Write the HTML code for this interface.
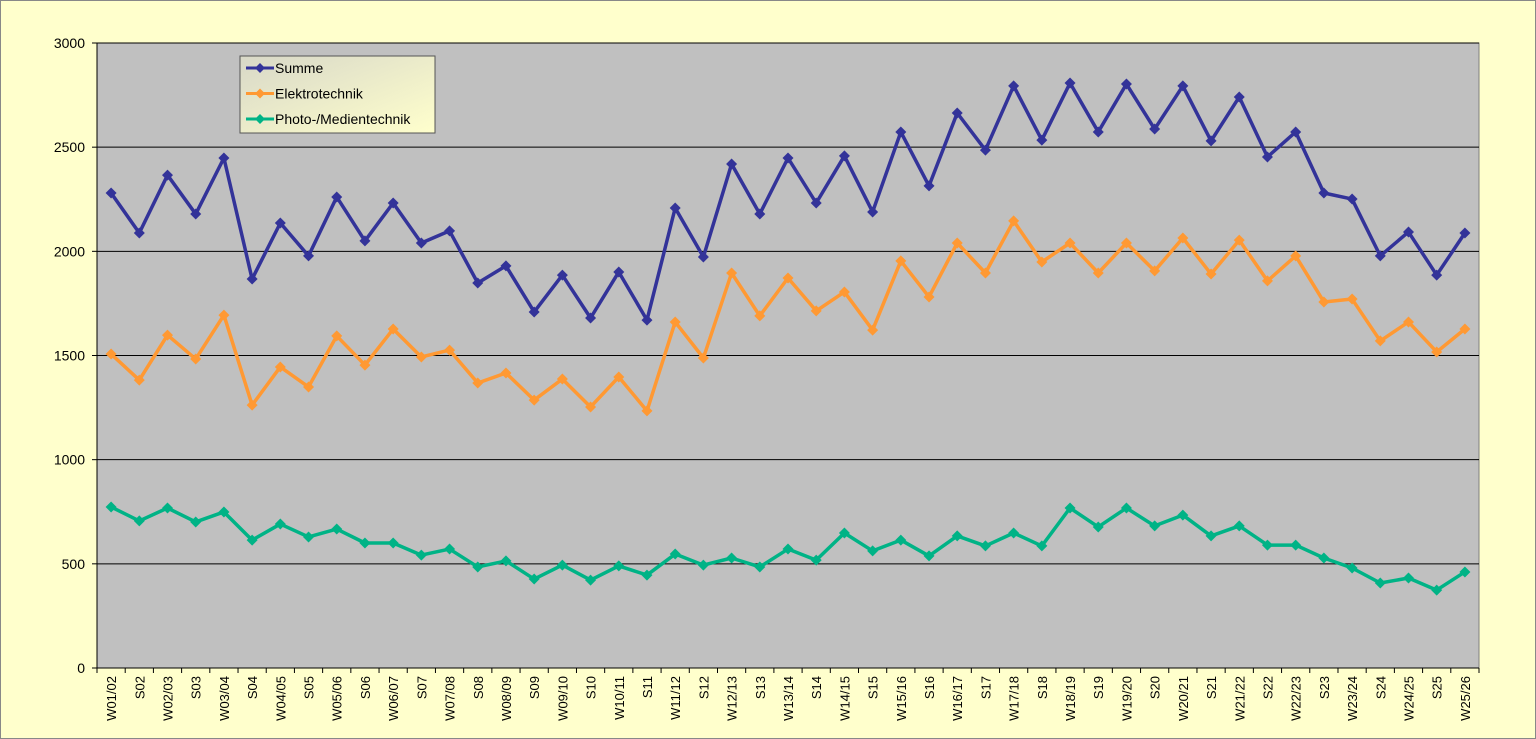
<!DOCTYPE html>
<html><head><meta charset="utf-8"><style>
html,body{margin:0;padding:0;background:#ffffcc;}
svg{display:block;font-family:"Liberation Sans",sans-serif;}
</style></head><body>
<svg id="chart" width="1536" height="739">
<defs><linearGradient id="lg" x1="0" y1="0" x2="1" y2="1"><stop offset="0" stop-color="#d8d8c8"/><stop offset="1" stop-color="#ffffcc"/></linearGradient></defs>
<rect x="0.5" y="0.5" width="1535" height="738" fill="#ffffcc" stroke="#888"/>
<g id="plot"></g>
</svg>
<script>
const categories=["W01/02","S02","W02/03","S03","W03/04","S04","W04/05","S05","W05/06","S06","W06/07","S07","W07/08","S08","W08/09","S09","W09/10","S10","W10/11","S11","W11/12","S12","W12/13","S13","W13/14","S14","W14/15","S15","W15/16","S16","W16/17","S17","W17/18","S18","W18/19","S19","W19/20","S20","W20/21","S21","W21/22","S22","W22/23","S23","W23/24","S24","W24/25","S25","W25/26"];
const summe=[2280,2088,2366,2179,2448,1867,2136,1978,2261,2050,2232,2040,2098,1848,1930,1709,1886,1680,1901,1670,2208,1973,2419,2179,2448,2232,2458,2189,2573,2314,2664,2486,2794,2534,2808,2573,2803,2587,2794,2530,2741,2453,2573,2280,2251,1978,2093,1886,2088];
const elektro=[1507,1382,1598,1483,1694,1262,1445,1349,1594,1454,1627,1493,1526,1368,1416,1286,1387,1253,1397,1234,1661,1488,1896,1690,1872,1714,1805,1622,1954,1781,2040,1896,2146,1949,2040,1896,2040,1906,2064,1891,2054,1858,1978,1757,1771,1570,1661,1517,1627];
const photo=[773,706,768,701,749,614,691,629,667,600,600,542,571,485,514,427,494,422,490,446,547,494,528,485,571,518,648,562,614,538,634,586,648,586,768,677,768,682,734,634,682,590,590,528,480,408,432,374,461];
const yTicks=[0,500,1000,1500,2000,2500,3000];
const seriesNames=["Summe","Elektrotechnik","Photo-/Medientechnik"];
const colors=["#333399","#ff9933","#00b386"];
const L=97,R=1479,T=43,B=668,YMAX=3000;
const bw=(R-L)/categories.length;
const xs=i=>L+bw*(i+0.5);
const ys=v=>B-(v/YMAX)*(B-T);
const NS="http://www.w3.org/2000/svg";
const g=document.getElementById('plot');
function mk(t,a,p){const e=document.createElementNS(NS,t);for(const k in a)e.setAttribute(k,a[k]);(p||g).appendChild(e);return e;}
const bg=mk('rect',{x:L,y:T,width:R-L,height:B-T,fill:'#c0c0c0',stroke:'#808080'});


yTicks.forEach(v=>{
  const y=ys(v);
  const ln=mk('line',{x1:L,x2:R,y1:y,y2:y,stroke:'#000','stroke-width':1});
  
  
  mk('line',{x1:L-5,x2:L,y1:y,y2:y,stroke:'#000'});
  const t=mk('text',{x:L-12,y:y+5,'text-anchor':'end','font-size':14,fill:'#000'});
  t.textContent=v;
  
  
});
mk('line',{x1:L,x2:L,y1:T,y2:B,stroke:'#000'});
mk('line',{x1:L,x2:R,y1:B,y2:B,stroke:'#000'});
categories.forEach((c,i)=>{
  const x=L+bw*i;
  mk('line',{x1:x,x2:x,y1:B,y2:B+5,stroke:'#000'});
  const cx=xs(i)+5;
  const t=mk('text',{x:cx,y:B+8,'text-anchor':'end','font-size':13,transform:`rotate(-90 ${cx} ${B+8})`});
  t.textContent=c;
  
  
});
mk('line',{x1:R,x2:R,y1:B,y2:B+5,stroke:'#000'});
[summe,elektro,photo].forEach((data,s)=>{
  const pts=data.map((v,i)=>xs(i)+','+ys(v)).join(' ');
  const pl=mk('polyline',{points:pts,fill:'none',stroke:colors[s],'stroke-width':3.5,'stroke-linejoin':'round'});
  
  
  data.forEach((v,i)=>{
    const x=xs(i),y=ys(v),r=5.5;
    const m=mk('polygon',{points:`${x},${y-r} ${x+r},${y} ${x},${y+r} ${x-r},${y}`,fill:colors[s]});
    
    
  });
});
const lg=mk('g',{});


mk('rect',{x:240,y:56,width:195,height:77,fill:'url(#lg)',stroke:'#555'},lg);
seriesNames.forEach((n,s)=>{
  const y=68+s*25.5;
  mk('line',{x1:246,x2:274,y1:y,y2:y,stroke:colors[s],'stroke-width':3},lg);
  mk('polygon',{points:`260,${y-5} 265,${y} 260,${y+5} 255,${y}`,fill:colors[s]},lg);
  const t=mk('text',{x:275,y:y+5,'font-size':14,fill:'#000'},lg);
  t.textContent=n;
  
  
});
</script>
</body></html>
